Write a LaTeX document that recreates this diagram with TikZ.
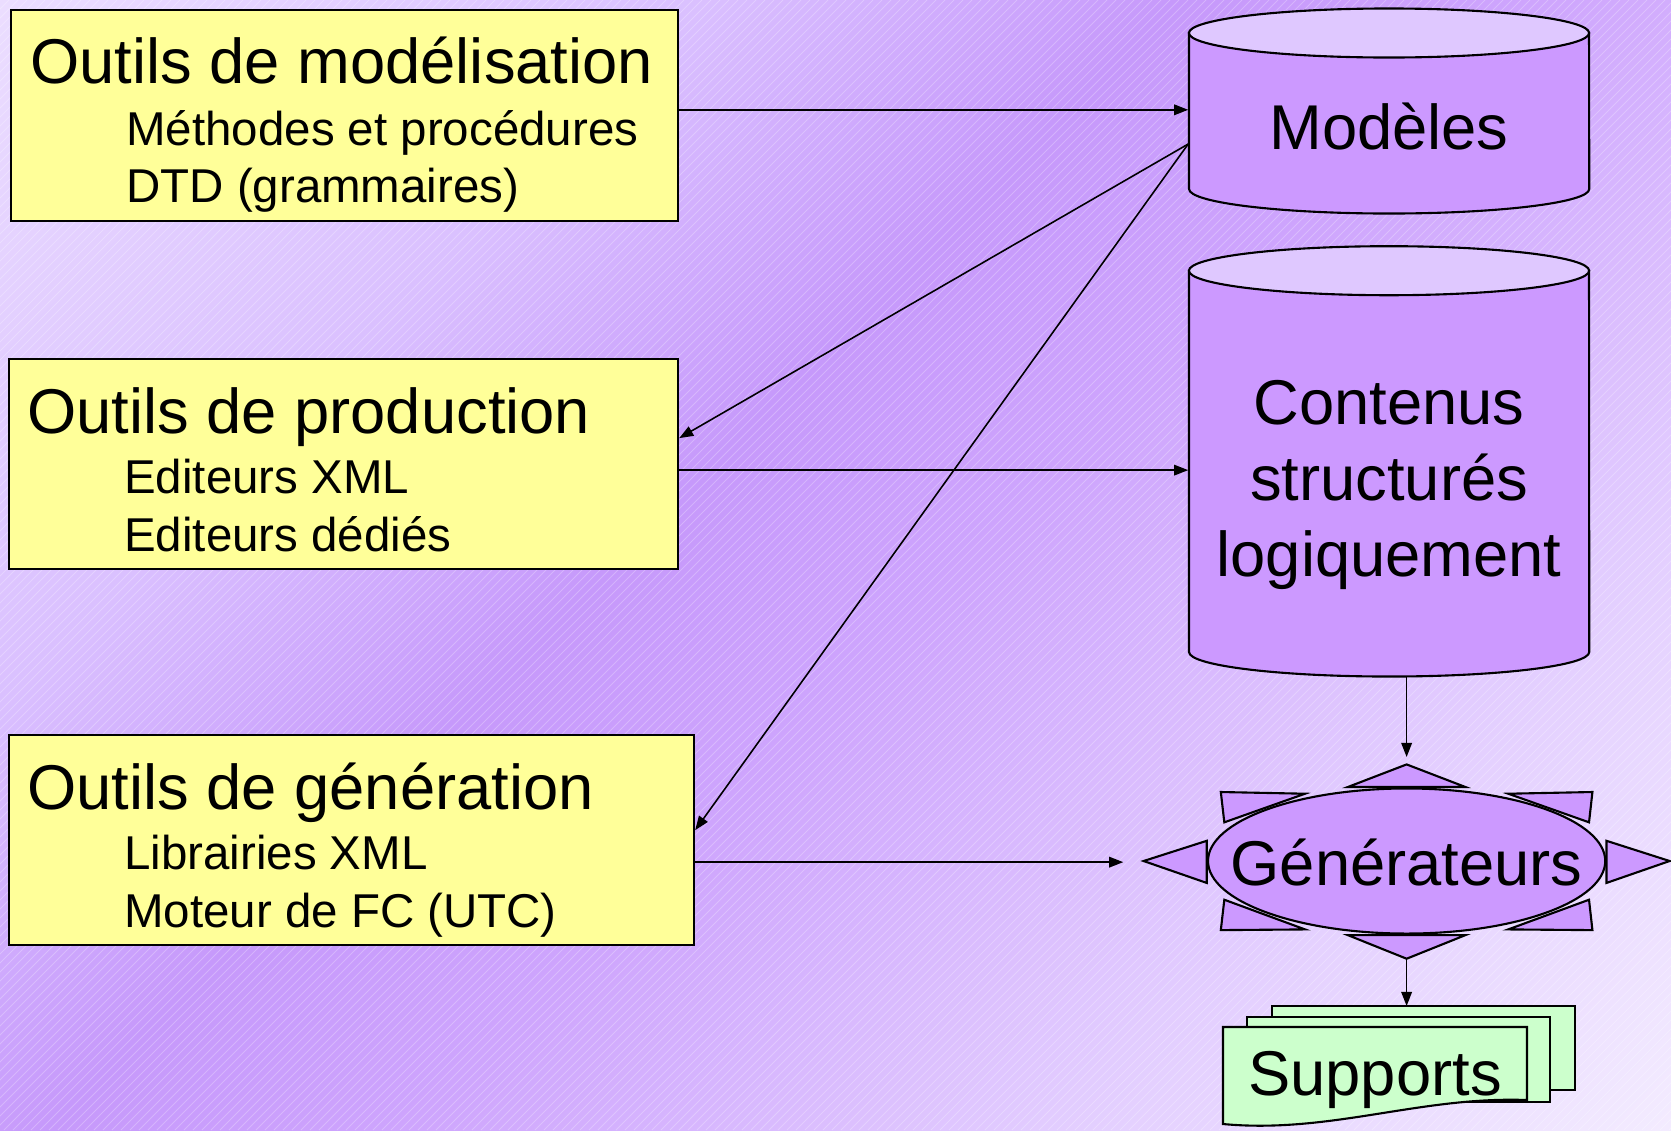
\documentclass[tikz,border=0pt]{standalone}
\usepackage{fontspec}
\setmainfont{Liberation Sans}
\usetikzlibrary{arrows.meta,calc}

\definecolor{toolyellow}{HTML}{FFFF99}
\definecolor{dbpurple}{HTML}{CC99FF}
\definecolor{dbtop}{HTML}{DFC8FF}
\definecolor{sheetgreen}{HTML}{CCFFCC}
\definecolor{bgA}{HTML}{EBDDFF}
\definecolor{bgB}{HTML}{DAC0FF}
\definecolor{bgC}{HTML}{C699FB}
\definecolor{bgD}{HTML}{CEA5FD}
\definecolor{bgE}{HTML}{E4D0FF}
\definecolor{bgF}{HTML}{F3EBFF}
\pgfdeclarehorizontalshading{bgshade}{100bp}{color(0bp)=(bgA); color(14.6bp)=(bgA); color(32.3bp)=(bgB); color(44.3bp)=(bgC); color(53.5bp)=(bgD); color(71.2bp)=(bgE); color(85.4bp)=(bgF); color(100bp)=(bgF)}

\begin{document}
\begin{tikzpicture}[x=0.01cm,y=-0.01cm,
  toolbox/.style={draw,fill=toolyellow,line width=0.6pt,inner sep=0,anchor=north west},
  title/.style={anchor=base west,inner sep=0,font=\fontsize{18}{21.5}\selectfont},
  item/.style={anchor=base west,inner sep=0,font=\fontsize{13.5}{16.2}\selectfont},
  bigtext/.style={inner sep=0,font=\fontsize{18}{21.5}\selectfont},
  arr/.style={-{Triangle[length=4pt,width=3pt]},line width=0.45pt},
  cylbody/.style={draw,fill=dbpurple,line width=0.6pt},
  cyltop/.style={draw,fill=dbtop,line width=0.6pt},
  ray/.style={draw,fill=dbpurple,line width=0.6pt},
  sheet/.style={draw,fill=sheetgreen,line width=0.6pt},
  hatch/.style={white,opacity=0.25,line width=0.25pt}]
\useasboundingbox (0,0) rectangle (1671,1130);

% background
\shade[shading=bgshade,shading angle=-45] (0,0) rectangle (1671,1130);
\begin{scope}
\clip (0,0) rectangle (1671,1130);
\foreach \k in {0,9,...,2808}
  \draw[hatch] (\k,0) -- (\k-1130,1130);
\end{scope}

%---------------------------------------------------------------------------------------------------
% tools
\node[toolbox,minimum width=6.671cm,minimum height=2.11cm] (box1) at (9.6,8.5) {};
\node[title] (t1) at ($(box1.north west)+(20,75)$) {Outils de modélisation};
\node[item] (t1a) at ($(box1.north west)+(116,137)$) {Méthodes et procédures};
\node[item] (t1b) at ($(box1.north west)+(116,194)$) {DTD (grammaires)};

\node[toolbox,minimum width=6.692cm,minimum height=2.10cm] (box2) at (7.5,358) {};
\node[title] (t2) at ($(box2.north west)+(19,75)$) {Outils de production};
\node[item] (t2a) at ($(box2.north west)+(116,135)$) {Editeurs XML};
\node[item] (t2b) at ($(box2.north west)+(116,193)$) {Editeurs dédiés};

\node[toolbox,minimum width=6.852cm,minimum height=2.10cm] (box3) at (7.5,734) {};
\node[title] (t3) at ($(box3.north west)+(19,75)$) {Outils de génération};
\node[item] (t3a) at ($(box3.north west)+(116,135)$) {Librairies XML};
\node[item] (t3b) at ($(box3.north west)+(116,193)$) {Moteur de FC (UTC)};

%---------------------------------------------------------------------------------------------------
% cylinders
\draw[cylbody] (1189,33) -- (1189,189) arc[start angle=180,end angle=360,x radius=2cm,y radius=0.245cm] -- (1589,33) -- cycle;
\draw[cyltop] (1389,33) ellipse[x radius=2cm,y radius=0.245cm];
\node[bigtext,minimum width=4cm] (modeles) at (1389,126) {Modèles};

\draw[cylbody] (1189,270.7) -- (1189,652) arc[start angle=180,end angle=360,x radius=2cm,y radius=0.245cm] -- (1589,270.7) -- cycle;
\draw[cyltop] (1389,270.7) ellipse[x radius=2cm,y radius=0.245cm];
\node[bigtext,text width=4cm,align=center] (contenus) at (1389,485) {Contenus\\structurés\hspace{0.3cm}\\logiquement};
\coordinate (cbot) at (1389,676.7);

%---------------------------------------------------------------------------------------------------
% generators
\draw[ray] (1406.6,764.4) -- (1347.8,787) -- (1465.4,787) -- cycle;
\draw[ray] (1406.6,958.7) -- (1347.8,935.1) -- (1465.4,935.1) -- cycle;
\draw[ray] (1143.6,861) -- (1206.7,840.8) -- (1206.7,882.9) -- cycle;
\draw[ray] (1669.6,861) -- (1606.5,840.8) -- (1606.5,882.9) -- cycle;
\draw[ray] (1220.8,792) -- (1305,793.7) -- (1224.3,822.3) -- cycle;
\draw[ray] (1592.4,792) -- (1508.2,793.7) -- (1589,822.3) -- cycle;
\draw[ray] (1220.8,930.1) -- (1305,929.4) -- (1224.3,899.7) -- cycle;
\draw[ray] (1592.4,930.1) -- (1508.2,929.4) -- (1589,899.7) -- cycle;
\draw[ray] (1406.6,861) ellipse[x radius=1.985cm,y radius=0.725cm];
\node[bigtext,minimum width=3.97cm] (gen) at (1406.6,862) {Générateurs};
\coordinate (gentop) at (1406.6,757);
\coordinate (genbot) at (1406.6,958.7);
\coordinate (genin) at ([xshift=-0.84cm]gen.west);

%---------------------------------------------------------------------------------------------------
% supports
\draw[sheet] (1272,1006) rectangle (1575,1090);
\draw[sheet] (1247,1017) rectangle (1550,1102);
\draw[sheet] (1223,1027) -- (1223,1124) .. controls (1330,1134) and (1420,1096) .. (1527,1100) -- (1527,1027) -- cycle;
\node[bigtext] (supports) at (1375,1080) {Supports};
\coordinate (sback) at (1423,1006);

%---------------------------------------------------------------------------------------------------
% arrows
\coordinate (p1) at ([yshift=0.053cm]box1.east);
\coordinate (p2) at ([yshift=-0.06cm]box2.east);
\coordinate (p3) at ([yshift=-0.22cm]box3.east);
\coordinate (m0) at ([yshift=-0.18cm]modeles.west);
\draw[arr] (p1) -- (p1 -| modeles.west);
\draw[arr] (m0) -- ([yshift=0.26cm]box2.east);
\draw[arr] (m0) -- ([yshift=0.10cm]box3.east);
\draw[arr] (p2) -- (p2 -| contenus.west);
\draw[arr] (p3) -- (p3 -| genin);
\draw[arr] (gentop |- cbot) -- (gentop);
\draw[arr] (genbot) -- (genbot |- sback);
\end{tikzpicture}
\end{document}
